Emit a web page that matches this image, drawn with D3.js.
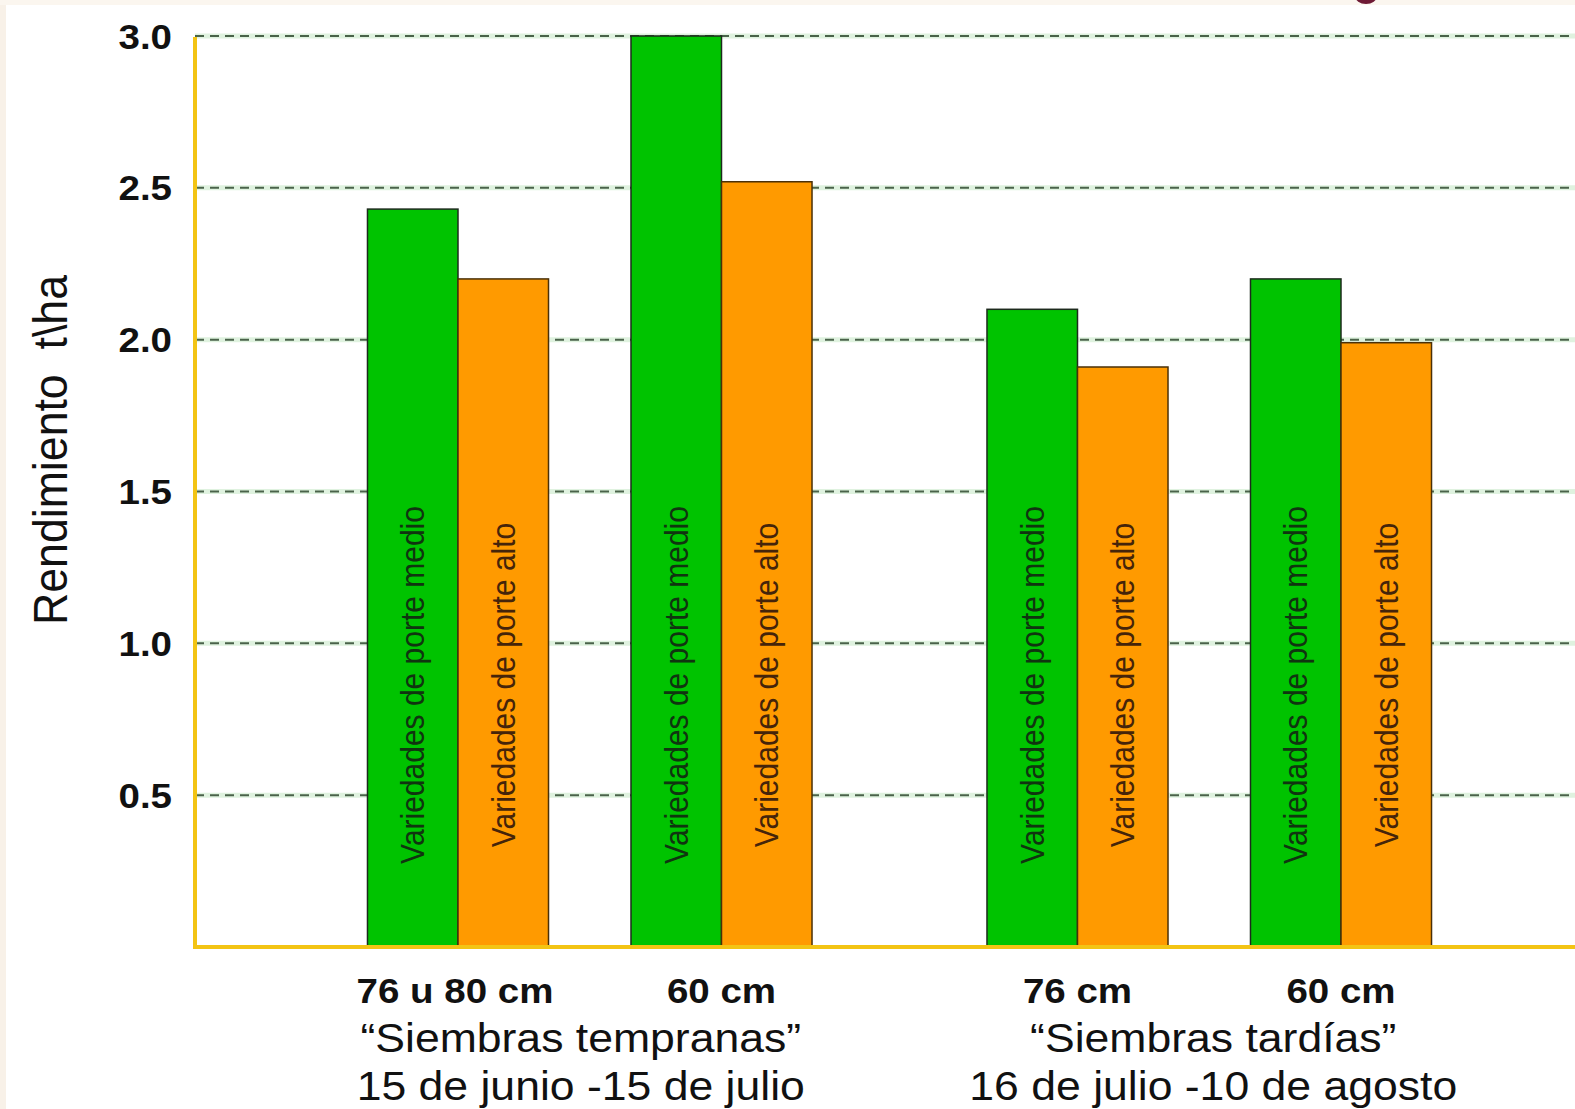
<!DOCTYPE html>
<html>
<head>
<meta charset="utf-8">
<script src="https://cdn.jsdelivr.net/npm/d3@7"></script>
<style>
  html, body { margin: 0; padding: 0; background: #ffffff; }
  svg { display: block; }
  text { font-family: "Liberation Sans", Arial, sans-serif; }
</style>
</head>
<body>
<svg id="chart" width="1575" height="1109"></svg>
<script>
// ---- data ----
const seasons = ["\u201cSiembras tempranas\u201d", "\u201cSiembras tard\u00edas\u201d"];
const seasonDates = ["15 de junio -15 de julio", "16 de julio -10 de agosto"];
const spacings = [["76 u 80 cm", "60 cm"], ["76 cm", "60 cm"]];
const series = ["Variedades de porte medio", "Variedades de porte alto"];
const medio = [2.43, 3.0, 2.1, 2.2];
const alto = [2.2, 2.52, 1.91, 1.99];
const yTicks = [0.5, 1.0, 1.5, 2.0, 2.5, 3.0];
const yTitle = "Rendimiento  t\\ha";

// ---- layout ----
const W = 1575, H = 1109;
const svg = d3.select("#chart");
const SX = 1.1; // horizontal stretch seen in the source image

svg.append("rect").attr("width", W).attr("height", H).attr("fill", "#ffffff");
svg.append("rect").attr("x", 0).attr("y", 0).attr("width", 6).attr("height", H).attr("fill", "#f8f1e8");
svg.append("rect").attr("x", 0).attr("y", 0).attr("width", W).attr("height", 5).attr("fill", "#fbf6ef");
svg.append("ellipse").attr("cx", 1366).attr("cy", -4).attr("rx", 11).attr("ry", 8).attr("fill", "#6e1a35");

const axisX = 195, baseY = 947;
const y = d3.scaleLinear().domain([0, 3]).range([baseY, 36]);
const x0 = d3.scaleBand().domain(d3.range(seasons.length)).range([280, 1519]).padding(0);
const x1 = d3.scaleBand().domain([0, 1]).range([0, x0.bandwidth()]).paddingInner(0.313).paddingOuter(0.332);
const x2 = d3.scaleBand().domain(series).range([0, x1.bandwidth()]).padding(0);

// gridlines
const grid = svg.append("g");
grid.selectAll("line.halo").data(yTicks).join("line")
  .attr("x1", axisX).attr("x2", W).attr("y1", d => y(d)).attr("y2", d => y(d))
  .attr("stroke", "#dff2df").attr("stroke-width", 5);
grid.selectAll("line.g").data(yTicks).join("line")
  .attr("x1", axisX).attr("x2", W).attr("y1", d => y(d)).attr("y2", d => y(d))
  .attr("stroke", "#4a634a").attr("stroke-width", 2).attr("stroke-dasharray", "9,6");

// tick labels
svg.append("g").selectAll("g").data(yTicks).join("g")
  .attr("transform", d => `translate(172,${y(d)}) scale(${SX},1)`)
  .append("text")
  .attr("text-anchor", "end").attr("dy", "0.36em")
  .attr("font-size", 35).attr("font-weight", "bold").attr("fill", "#111")
  .text(d => d.toFixed(1));

// y title
svg.append("g").attr("transform", `translate(50,450) scale(${SX},1) rotate(-90)`)
  .append("text").attr("text-anchor", "middle").attr("dominant-baseline", "central")
  .style("white-space", "pre")
  .attr("font-size", 44).attr("fill", "#111").attr("textLength", 350).attr("lengthAdjust", "spacingAndGlyphs")
  .text(yTitle);

// bars
const groups = [];
seasons.forEach((s, si) => spacings[si].forEach((sp, gi) => {
  const idx = groups.length;
  groups.push({ si, gi, label: sp, vals: [medio[idx], alto[idx]] });
}));
const fills = ["#00c300", "#ff9a00"];
const strokes = ["#1d2a1d", "#4a3008"];
const txtCol = ["#103410", "#45240a"];

const gG = svg.append("g").selectAll("g").data(groups).join("g")
  .attr("transform", d => `translate(${x0(d.si) + x1(d.gi)},0)`);

gG.selectAll("rect").data(d => d.vals.map((v, k) => ({ v, k }))).join("rect")
  .attr("x", d => x2(series[d.k]))
  .attr("y", d => y(d.v))
  .attr("width", x2.bandwidth())
  .attr("height", d => baseY - y(d.v))
  .attr("fill", d => fills[d.k])
  .attr("stroke", d => strokes[d.k]).attr("stroke-width", 1.5);

gG.selectAll("g.lbl").data(d => d.vals.map((v, k) => ({ v, k }))).join("g")
  .attr("transform", d => `translate(${x2(series[d.k]) + x2.bandwidth() / 2},685) scale(${SX},1) rotate(-90)`)
  .append("text").attr("text-anchor", "middle").attr("dominant-baseline", "central")
  .attr("font-size", 30).attr("fill", d => txtCol[d.k])
  .text(d => series[d.k]);

// spacing labels
svg.append("g").selectAll("g").data(groups).join("g")
  .attr("transform", d => `translate(${x0(d.si) + x1(d.gi) + x1.bandwidth() / 2 - (d.gi === 0 && d.si === 0 ? 3 : 0)},1003) scale(${SX},1)`)
  .append("text").attr("text-anchor", "middle")
  .attr("font-size", 35).attr("font-weight", "bold").attr("fill", "#111")
  .text(d => d.label);

// season labels
const sG = svg.append("g").selectAll("g").data(seasons.map((s, i) => ({ s, i }))).join("g")
  .attr("transform", d => `translate(${x0(d.i) + x0.bandwidth() / 2 - (d.i === 0 ? 9 : -4)},0)`);
sG.append("g").attr("transform", `translate(0,1052) scale(${SX},1)`)
  .append("text").attr("text-anchor", "middle").attr("font-size", 40.5).attr("fill", "#111")
  .text(d => d.s);
sG.append("g").attr("transform", `translate(0,1100) scale(${SX},1)`)
  .append("text").attr("text-anchor", "middle").attr("font-size", 40.5).attr("fill", "#111")
  .text(d => seasonDates[d.i]);

// axes (yellow)
svg.append("line").attr("x1", axisX - 2).attr("x2", W).attr("y1", baseY).attr("y2", baseY)
  .attr("stroke", "#f3c414").attr("stroke-width", 4);
svg.append("line").attr("x1", axisX).attr("x2", axisX).attr("y1", 37).attr("y2", baseY + 2)
  .attr("stroke", "#f3c414").attr("stroke-width", 4);
</script>
</body>
</html>
